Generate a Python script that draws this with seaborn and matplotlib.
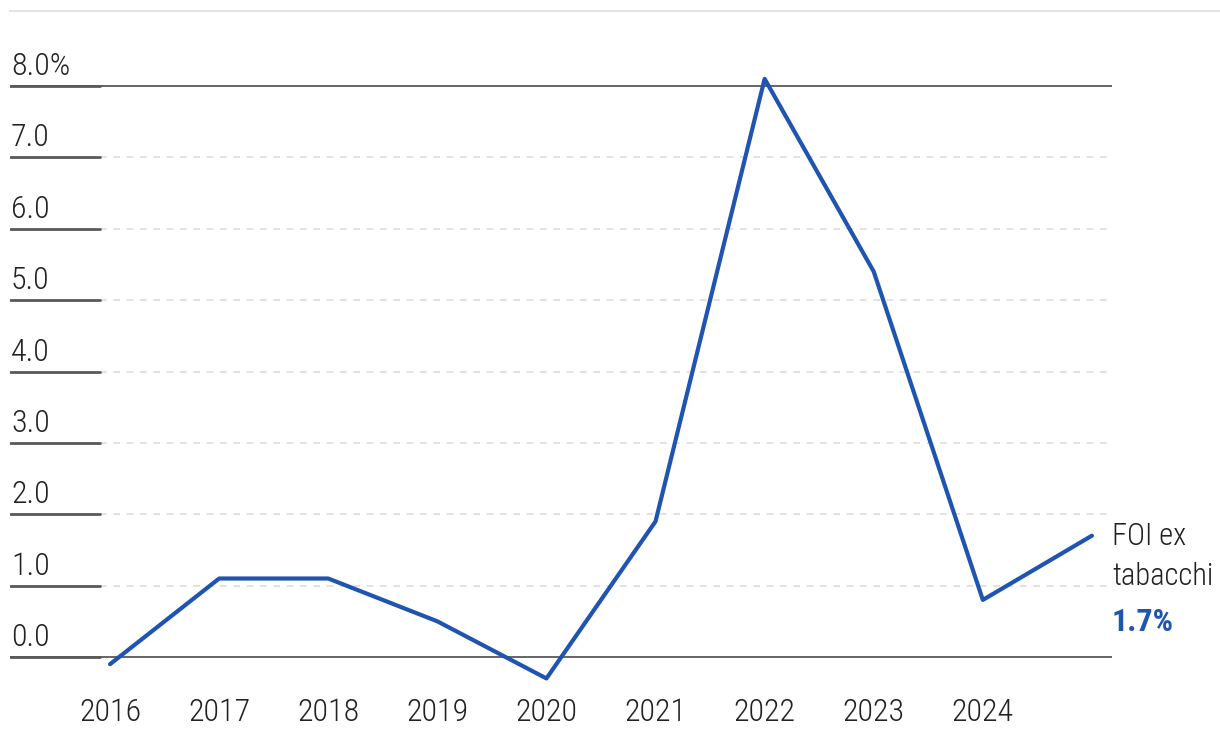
import matplotlib
matplotlib.use("Agg")
import matplotlib.pyplot as plt
import matplotlib.lines as mlines
from matplotlib import font_manager
import seaborn as sns
import pandas as pd

# dati
anni = [2016, 2017, 2018, 2019, 2020, 2021, 2022, 2023, 2024, 2025]
foi_ex_tabacchi = [-0.1, 1.1, 1.1, 0.5, -0.3, 1.9, 8.1, 5.4, 0.8, 1.7]
tick_anni = [2016, 2017, 2018, 2019, 2020, 2021, 2022, 2023, 2024]
tick_y = [0, 1, 2, 3, 4, 5, 6, 7, 8]
etichette_y = ["0.0", "1.0", "2.0", "3.0", "4.0", "5.0", "6.0", "7.0", "8.0%"]

df = pd.DataFrame({"anno": anni, "valore": foi_ex_tabacchi})

sns.set_style("white")

# cerca un font stretto tra quelli installati
fonts = font_manager.fontManager.ttflist
nomi = {f.name for f in fonts}
stretch = "normal"
famiglia = "DejaVu Sans"
for n in ["Liberation Sans Narrow", "Roboto Condensed", "Open Sans Condensed",
          "Noto Sans Condensed"]:
    if n in nomi:
        famiglia = n
        break
else:
    cond = [f for f in fonts if f.name in ("Roboto", "Noto Sans", "DejaVu Sans", "Open Sans")
            and str(f.stretch) in ("condensed", "semi-condensed", "75", "87.5")]
    if cond:
        famiglia = cond[0].name
        stretch = "condensed"
plt.rcParams['font.family'] = [famiglia, 'DejaVu Sans']
plt.rcParams['font.stretch'] = stretch
usa_condensato = famiglia != "DejaVu Sans" or stretch == "condensed"
fs = 23 if usa_condensato else 19
peso = "light"

blu = "#1f54b0"
grigio_scuro = "#595959"
grigio_chiaro = "#dddddd"
testo = "#222222"

W, H = 1220, 742
fig = plt.figure(figsize=(W / 100, H / 100), dpi=100)
# assi in pixel: left 10, right 1112, top 70, bottom 690
ax = fig.add_axes([10 / W, 1 - 690 / H, (1112 - 10) / W, (690 - 70) / H])

ax.set_xlim(2015.083, 2025.184)
ax.set_ylim(-0.462, 8.224)

tick_frac = (100 - 10) / (1112 - 10)
for v, lab in zip(tick_y, etichette_y):
    if v in (0, 8):
        ax.axhline(v, color=grigio_scuro, lw=1.3, zorder=1)
    else:
        ax.axhline(v, xmin=tick_frac, xmax=1, color=grigio_chiaro, lw=1.2,
                   ls=(0, (4, 4)), zorder=1)
    ax.axhline(v, xmin=0, xmax=tick_frac, color=grigio_scuro, lw=2, zorder=1)
    ax.annotate(lab, xy=(0, v), xycoords=("axes fraction", "data"),
                xytext=(1, 5), textcoords="offset pixels",
                ha="left", va="bottom", fontsize=fs, color=testo, fontweight=peso)

sns.lineplot(data=df, x="anno", y="valore", ax=ax, color=blu, lw=3, zorder=3)

ax.set_xticks(tick_anni)
ax.set_xticklabels([str(a) for a in tick_anni], fontsize=fs, color=testo,
                   fontweight=peso)
ax.tick_params(axis="x", length=0, pad=6)
ax.set_yticks([])
ax.set_xlabel("")
ax.set_ylabel("")
for s in ax.spines.values():
    s.set_visible(False)

# etichetta finale
ax.annotate("FOI ex\ntabacchi", xy=(anni[-1], foi_ex_tabacchi[-1]),
            xytext=(20, -21), textcoords="offset pixels", ha="left", va="center",
            fontsize=fs - 1, color=testo, linespacing=1.5, fontweight=peso,
            annotation_clip=False)
ax.annotate(f"{foi_ex_tabacchi[-1]:.1f}%", xy=(anni[-1], foi_ex_tabacchi[-1]),
            xytext=(20, -86), textcoords="offset pixels", ha="left", va="center",
            fontsize=fs, color=blu, fontweight="bold", annotation_clip=False)

# linea grigia in alto
fig.add_artist(mlines.Line2D([10 / W, 1], [1 - 11 / H, 1 - 11 / H],
                             color="#e3e3e3", lw=1.5, transform=fig.transFigure))

fig.savefig("out.png", dpi=100)
